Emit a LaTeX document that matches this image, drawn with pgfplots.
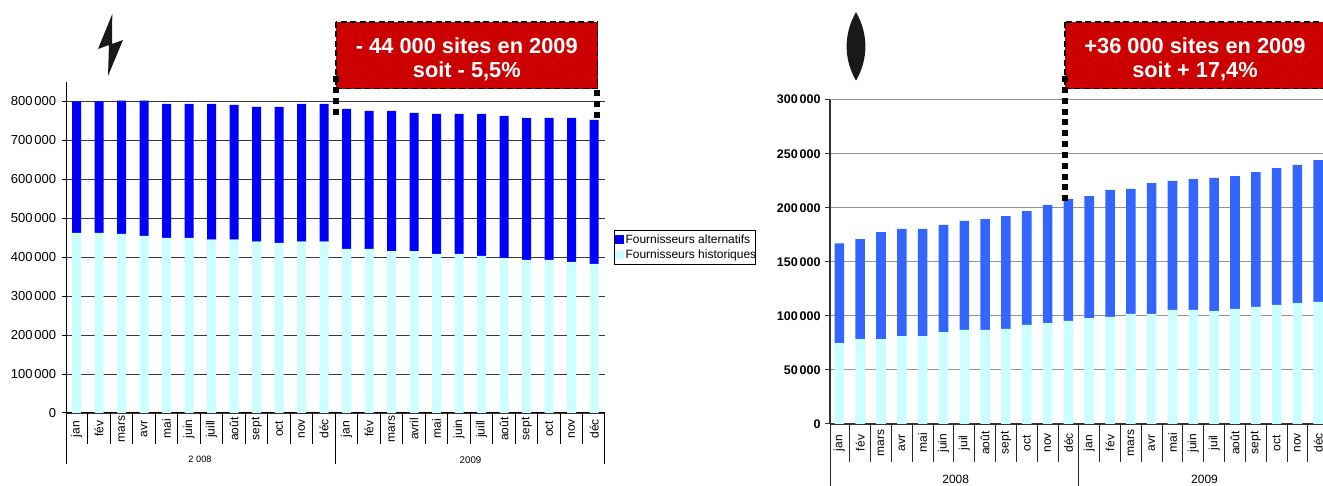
\documentclass[border=0pt]{standalone}
\usepackage{pgfplots}
\usepackage{pgfplotstable}
\usepackage{fontspec}
\pgfplotsset{compat=1.18}
\setmainfont{Liberation Sans}
\newcommand\tsp{\kern1.8pt}
\newcommand\fsz[1]{\fontsize{#1}{#1}\selectfont}
\definecolor{altL}{HTML}{0000FF}
\definecolor{altR}{HTML}{3366FF}
\definecolor{hist}{HTML}{CCFFFF}
\definecolor{redbox}{HTML}{CC0000}
\pgfplotstableread{
x hist total
0 462600 800000
1 462600 800000
2 460000 802000
3 455000 802000
4 450000 794000
5 450000 794000
6 445000 794000
7 445000 791500
8 440000 786000
9 437000 786000
10 440000 794000
11 440000 794000
12 421500 781000
13 421500 776000
14 416000 776000
15 416000 771000
16 408600 768000
17 408600 768000
18 403500 768000
19 398000 763000
20 393000 758000
21 393000 758000
22 388000 758000
23 383000 753000
}\elec
\pgfplotstableread{
x hist total
0 74900 167000
1 78600 171100
2 78600 177600
3 81400 180400
4 81400 180400
5 85100 184100
6 87000 187800
7 87000 189600
8 87900 192400
9 91600 197000
10 93400 202600
11 95300 208100
12 98000 210900
13 99000 216500
14 101800 217400
15 101800 222900
16 105500 224800
17 105500 226600
18 104500 227600
19 106400 229400
20 108300 233100
21 110100 236800
22 111900 239600
23 112900 244200
}\gaz
\pgfplotsset{
  chart/.style={
    scale only axis, clip=false, ybar stacked,
    axis lines*=left, axis line style={-},
    ymin=0, xtick={0,...,23}, scaled y ticks=false,
    ymajorgrids,
    ytick align=outside, xtick align=outside,
    major tick length=5pt,
    xtick style={draw=none},
  },
  swatch/.style={legend image code/.code={\fill[##1] (0pt,-4.2pt) rectangle (8.4pt,4.2pt);}},
}
\begin{document}
\begin{tikzpicture}
\useasboundingbox (0pt,0pt) rectangle (1323pt,486pt);
\clip (0pt,0pt) rectangle (1323pt,486pt);
% left chart
\begin{axis}[chart,
  at={(66.7pt,73pt)}, anchor=south west, width=537.8pt, height=331pt,
  xmin=-0.44, xmax=23.46, ymax=850000, bar width=9pt,
  axis line style={black, line width=1pt},
  grid style={color=black!78, line width=1.1pt},
  ytick style={black, line width=1pt},
  ytick={0,100000,...,800000},
  yticklabels={0,100\tsp000,200\tsp000,300\tsp000,400\tsp000,500\tsp000,600\tsp000,700\tsp000,800\tsp000},
  yticklabel style={font=\fsz{13}, xshift=-2pt},
  xticklabel style={yshift=-11pt, rotate=90, anchor=center, font=\fsz{12}},
  xticklabels={jan,fév,mars,avr,mai,juin,juill,août,sept,oct,nov,déc,jan,fév,mars,avril,mai,juin,juill,août,sept,oct,nov,déc},
  legend cell align=left,
  reverse legend,
  legend style={at={(1.0171,0.5529)}, anchor=north west, draw=black, line width=0.8pt,
    font=\fsz{12}, inner xsep=1pt, inner ysep=2pt, row sep=1.5pt},
]
\addplot[fill=hist, draw=none, swatch] table[x=x, y=hist] {\elec};
\addplot[fill=altL, draw=none, swatch] table[x=x, y expr=\thisrow{total}-\thisrow{hist}] {\elec};
\legend{\makebox[127pt][l]{Fournisseurs historiques},\makebox[127pt][l]{Fournisseurs alternatifs}}
\pgfplotsinvokeforeach{0.5,1.5,2.5,3.5,4.5,5.5,6.5,7.5,8.5,9.5,10.5,12.5,13.5,14.5,15.5,16.5,17.5,18.5,19.5,20.5,21.5,22.5}{
  \draw[black, line width=0.9pt] (axis cs:#1,0) -- (axis cs:#1,-79700);
}
\pgfplotsinvokeforeach{-0.44,11.5,23.46}{
  \draw[black, line width=0.9pt] (axis cs:#1,0) -- (axis cs:#1,-131000);
}
\end{axis}
% right chart
\begin{axis}[chart,
  at={(830pt,62pt)}, anchor=south west, width=494.5pt, height=324.3pt,
  xmin=-0.45, xmax=23.3, ymax=300000, bar width=9.6pt,
  axis line style={black!80, line width=1.2pt},
  grid style={color=black!42, line width=1.1pt},
  ytick style={black!80, line width=1pt},
  ytick={0,50000,...,300000},
  yticklabels={0,50\tsp000,100\tsp000,150\tsp000,200\tsp000,250\tsp000,300\tsp000},
  yticklabel style={font=\bfseries\fsz{12.5}, xshift=-1pt},
  xticklabel style={yshift=-14pt, rotate=90, anchor=center, font=\fsz{12}},
  xticklabels={jan,fév,mars,avr,mai,juin,juil,août,sept,oct,nov,déc,jan,fév,mars,avr,mai,juin,juil,août,sept,oct,nov,déc},
]
\addplot[fill=hist, draw=none] table[x=x, y=hist] {\gaz};
\addplot[fill=altR, draw=none] table[x=x, y expr=\thisrow{total}-\thisrow{hist}] {\gaz};
\pgfplotsinvokeforeach{0.5,1.5,2.5,3.5,4.5,5.5,6.5,7.5,8.5,9.5,10.5,12.5,13.5,14.5,15.5,16.5,17.5,18.5,19.5,20.5,21.5,22.5}{
  \draw[black!85, line width=0.9pt] (axis cs:#1,0) -- (axis cs:#1,-35200);
}
\pgfplotsinvokeforeach{-0.45,11.5}{
  \draw[black!85, line width=1pt] (axis cs:#1,0) -- (axis cs:#1,-64800);
}
\end{axis}
% year labels
\node[font=\fsz{9.2}] at (200pt,26.3pt) {2 008};
\node[font=\fsz{9.7}] at (470.5pt,26.3pt) {2009};
\node[font=\fsz{12}] at (955.7pt,7pt) {2008};
\node[font=\fsz{12}] at (1204.5pt,7pt) {2009};
% call-out boxes
\tikzset{callout/.style={fill=redbox, draw=black, line width=1.4pt, dash pattern=on 6pt off 3.5pt},
  dots/.style={black, line width=6pt, dash pattern=on 6pt off 4.85pt},
  boxtext/.style={white, font=\bfseries\fsz{21.8}}}
\path[callout] (336pt,464pt) rectangle (597.7pt,397.3pt);
\path[callout] (1065pt,464pt) rectangle (1325pt,397.3pt);
\draw[dots] (336pt,410pt) -- (336pt,371pt);
\draw[dots] (597pt,395.5pt) -- (597pt,368pt);
\draw[dots] (1064.5pt,410pt) -- (1064.5pt,283pt);
\node[boxtext] at (466.8pt,440pt) {- 44 000 sites en 2009};
\node[boxtext] at (466.8pt,414.3pt) {soit - 5,5\%};
\node[boxtext] at (1195pt,440pt) {+36 000 sites en 2009};
\node[boxtext] at (1195pt,414.3pt) {soit + 17,4\%};
% icons
\fill[black!90] (112.3pt,472pt) -- (98pt,437pt) -- (109pt,441pt) -- (108pt,410pt) -- (123pt,446pt) -- (112pt,442pt) -- cycle;
\fill[black!90] (856pt,474pt) .. controls (868.5pt,452pt) and (868.5pt,427pt) .. (856pt,405.3pt)
  .. controls (843.5pt,427pt) and (843.5pt,452pt) .. (856pt,474pt) -- cycle;
\end{tikzpicture}
\end{document}
